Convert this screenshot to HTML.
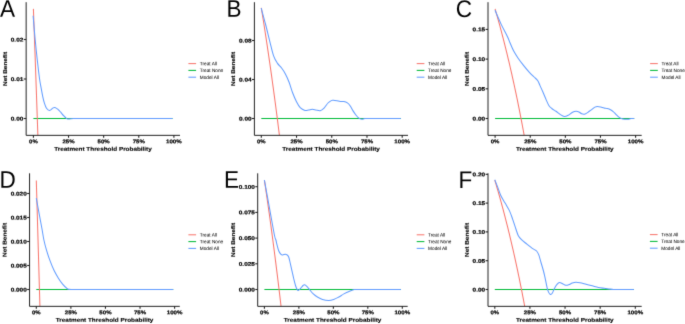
<!DOCTYPE html>
<html><head><meta charset="utf-8"><style>html,body{margin:0;padding:0;background:#fff;}body{width:685px;height:324px;overflow:hidden;}svg{display:block;will-change:transform;}text{font-family:"Liberation Sans",sans-serif;}.t{font-size:5.3px;font-weight:bold;fill:#000;stroke:#000;stroke-width:0.18px;}.ti{font-size:5.45px;font-weight:bold;fill:#000;stroke:#000;stroke-width:0.12px;}.lg{font-size:4.9px;fill:#000;stroke:#000;stroke-width:0.03px;}.L{font-size:24.0px;fill:#000;}</style></head><body>
<svg width="685" height="324" viewBox="0 0 685 324">
<defs><filter id="bl" x="0" y="0" width="685" height="324" filterUnits="userSpaceOnUse" color-interpolation-filters="sRGB"><feConvolveMatrix order="3" kernelMatrix="0.0183 0.1353 0.0183 0.1353 1 0.1353 0.0183 0.1353 0.0183" divisor="1.6146" edgeMode="none" preserveAlpha="false"/></filter></defs>
<g filter="url(#bl)"><rect x="0" y="0" width="685" height="324" fill="#fff"/>
<g><text class="L" transform="translate(0 16.8) scale(0.94 1) matrix(1 0.001 0 1 0 0)">A</text>
<clipPath id="cA"><rect x="26.15" y="2.2" width="153.85" height="133.15"/></clipPath>
<g clip-path="url(#cA)" fill="none" stroke-width="1.05">
<path d="M33.4 118.5H172.5" stroke="#00BA38"/>
<path d="M33.4 8.89 L33.75 18.51 L34.1 28.19 L34.45 37.91 L34.8 47.68 L35.16 57.5 L35.51 67.37 L35.86 77.29 L36.21 87.26 L36.56 97.29 L36.91 107.36 L37.26 117.48 L37.61 127.66 L37.88 135.35" stroke="#F8766D"/>
<path d="M33.1 15.7C33.45 19.75 34.48 32.45 35.2 40C35.92 47.55 36.68 54.58 37.4 61C38.12 67.42 38.87 73.93 39.5 78.5C40.13 83.07 40.65 85.35 41.2 88.4C41.75 91.45 42.27 94.35 42.8 96.8C43.33 99.25 43.78 101.18 44.4 103.1C45.02 105.02 45.63 107.08 46.5 108.3C47.37 109.52 48.55 110.43 49.6 110.4C50.65 110.37 51.92 108.58 52.8 108.1C53.68 107.62 54.03 107.28 54.9 107.5C55.77 107.72 57.03 108.62 58 109.4C58.97 110.18 59.77 111.15 60.7 112.2C61.63 113.25 62.62 114.63 63.6 115.7C64.58 116.77 65.77 118.07 66.6 118.6C67.43 119.13 67.45 118.92 68.6 118.9C69.75 118.88 71.87 118.57 73.5 118.5L172.5 118.5" stroke="#619CFF" stroke-linejoin="round"/>
</g>
<path d="M26.15 2.2V135.35H180" fill="none" stroke="#222222" stroke-width="1.0"/>
<path d="M23.75 118.5H26.15" stroke="#222222" stroke-width="1.1"/>
<text class="t" transform="translate(23.35 118.45) matrix(1 0.001 0 1 0 0)" text-anchor="end" textLength="12.58" lengthAdjust="spacingAndGlyphs" dominant-baseline="central">0.00</text>
<path d="M23.75 79H26.15" stroke="#222222" stroke-width="1.1"/>
<text class="t" transform="translate(23.35 78.95) matrix(1 0.001 0 1 0 0)" text-anchor="end" textLength="12.58" lengthAdjust="spacingAndGlyphs" dominant-baseline="central">0.01</text>
<path d="M23.75 39.5H26.15" stroke="#222222" stroke-width="1.1"/>
<text class="t" transform="translate(23.35 39.45) matrix(1 0.001 0 1 0 0)" text-anchor="end" textLength="12.58" lengthAdjust="spacingAndGlyphs" dominant-baseline="central">0.02</text>
<path d="M33.4 135.35V137.75" stroke="#222222" stroke-width="1.1"/>
<text class="t" transform="translate(33.4 141.15) matrix(1 0.001 0 1 0 0)" text-anchor="middle" textLength="8.66" lengthAdjust="spacingAndGlyphs" dominant-baseline="central">0%</text>
<path d="M68.53 135.35V137.75" stroke="#222222" stroke-width="1.1"/>
<text class="t" transform="translate(68.53 141.15) matrix(1 0.001 0 1 0 0)" text-anchor="middle" textLength="12.21" lengthAdjust="spacingAndGlyphs" dominant-baseline="central">25%</text>
<path d="M103.65 135.35V137.75" stroke="#222222" stroke-width="1.1"/>
<text class="t" transform="translate(103.65 141.15) matrix(1 0.001 0 1 0 0)" text-anchor="middle" textLength="12.21" lengthAdjust="spacingAndGlyphs" dominant-baseline="central">50%</text>
<path d="M138.78 135.35V137.75" stroke="#222222" stroke-width="1.1"/>
<text class="t" transform="translate(138.78 141.15) matrix(1 0.001 0 1 0 0)" text-anchor="middle" textLength="12.21" lengthAdjust="spacingAndGlyphs" dominant-baseline="central">75%</text>
<path d="M173.9 135.35V137.75" stroke="#222222" stroke-width="1.1"/>
<text class="t" transform="translate(173.9 141.15) matrix(1 0.001 0 1 0 0)" text-anchor="middle" textLength="15.76" lengthAdjust="spacingAndGlyphs" dominant-baseline="central">100%</text>
<text class="ti" transform="translate(102.98 148.8) matrix(1 0.001 0 1 0 0)" text-anchor="middle" textLength="97.57" lengthAdjust="spacingAndGlyphs" dominant-baseline="central">Treatment Threshold Probability</text>
<text class="ti" transform="translate(5 69) rotate(-90) matrix(1 0.001 0 1 0 0)" text-anchor="middle" textLength="34.07" lengthAdjust="spacingAndGlyphs" dominant-baseline="central">Net Benefit</text>
<path d="M188.4 63.6H196.1" stroke="#F8766D" stroke-width="1.05"/>
<text class="lg" transform="translate(199.8 63.75) scale(0.96 1) matrix(1 0.001 0 1 0 0)" dominant-baseline="central">Treat All</text>
<path d="M188.4 70.4H196.1" stroke="#00BA38" stroke-width="1.05"/>
<text class="lg" transform="translate(199.8 70.55) scale(0.96 1) matrix(1 0.001 0 1 0 0)" dominant-baseline="central">Treat None</text>
<path d="M188.4 77.2H196.1" stroke="#619CFF" stroke-width="1.05"/>
<text class="lg" transform="translate(199.8 77.35) scale(0.96 1) matrix(1 0.001 0 1 0 0)" dominant-baseline="central">Model All</text></g>
<g><text class="L" transform="translate(226.4 16.8) scale(0.94 1) matrix(1 0.001 0 1 0 0)">B</text>
<clipPath id="cB"><rect x="254.4" y="2.2" width="153.6" height="133.15"/></clipPath>
<g clip-path="url(#cB)" fill="none" stroke-width="1.05">
<path d="M261.3 118.5H400.79" stroke="#00BA38"/>
<path d="M261.3 7.84 L261.65 10 L262 12.18 L262.36 14.37 L262.71 16.57 L263.06 18.78 L263.41 21 L263.77 23.23 L264.12 25.48 L264.47 27.73 L264.82 30 L265.17 32.28 L265.53 34.57 L265.88 36.87 L266.23 39.19 L266.58 41.51 L266.94 43.85 L267.29 46.2 L267.64 48.57 L267.99 50.94 L268.35 53.33 L268.7 55.73 L269.05 58.14 L269.4 60.57 L269.75 63.01 L270.11 65.46 L270.46 67.93 L270.81 70.4 L271.16 72.9 L271.52 75.4 L271.87 77.92 L272.22 80.45 L272.57 83 L272.92 85.56 L273.28 88.13 L273.63 90.72 L273.98 93.32 L274.33 95.94 L274.69 98.57 L275.04 101.21 L275.39 103.88 L275.74 106.55 L276.09 109.24 L276.45 111.95 L276.8 114.67 L277.15 117.4 L277.5 120.15 L277.86 122.92 L278.21 125.7 L278.56 128.5 L278.91 131.31 L279.26 134.14 L279.41 135.35" stroke="#F8766D"/>
<path d="M261.2 8.2C261.93 10.92 264.15 18.9 265.6 24.5C267.05 30.1 268.57 36.57 269.9 41.8C271.23 47.03 272.33 52.3 273.6 55.9C274.87 59.5 276.2 61.42 277.5 63.4C278.8 65.38 280.08 66.05 281.4 67.8C282.72 69.55 284.12 71.5 285.4 73.9C286.68 76.3 287.87 78.97 289.1 82.2C290.33 85.43 291.57 90.05 292.8 93.3C294.03 96.55 295.27 99.32 296.5 101.7C297.73 104.08 298.8 106.15 300.2 107.6C301.6 109.05 303.5 110 304.9 110.4C306.3 110.8 307.37 110.18 308.6 110C309.83 109.82 311.07 109.3 312.3 109.3C313.53 109.3 314.68 109.77 316 110C317.32 110.23 318.82 111.07 320.2 110.7C321.58 110.33 323 109.08 324.3 107.8C325.6 106.52 326.77 104.23 328 103C329.23 101.77 330.78 100.85 331.7 100.4C332.62 99.95 332.63 100.23 333.5 100.3C334.37 100.37 335.75 100.6 336.9 100.8C338.05 101 339.23 101.38 340.4 101.5C341.57 101.62 342.73 101.27 343.9 101.5C345.07 101.73 346.37 102.2 347.4 102.9C348.43 103.6 349.18 104.42 350.1 105.7C351.02 106.98 351.97 109.1 352.9 110.6C353.83 112.1 354.77 113.5 355.7 114.7C356.63 115.9 357.47 117.03 358.5 117.8C359.53 118.57 360.87 119.17 361.9 119.3C362.93 119.43 363.35 118.73 364.7 118.6C366.05 118.47 368.23 118.52 370 118.5L400.79 118.5" stroke="#619CFF" stroke-linejoin="round"/>
</g>
<path d="M254.4 2.2V135.35H408" fill="none" stroke="#222222" stroke-width="1.0"/>
<path d="M252 118.5H254.4" stroke="#222222" stroke-width="1.1"/>
<text class="t" transform="translate(251.6 118.45) matrix(1 0.001 0 1 0 0)" text-anchor="end" textLength="12.58" lengthAdjust="spacingAndGlyphs" dominant-baseline="central">0.00</text>
<path d="M252 79.5H254.4" stroke="#222222" stroke-width="1.1"/>
<text class="t" transform="translate(251.6 79.45) matrix(1 0.001 0 1 0 0)" text-anchor="end" textLength="12.58" lengthAdjust="spacingAndGlyphs" dominant-baseline="central">0.04</text>
<path d="M252 40.5H254.4" stroke="#222222" stroke-width="1.1"/>
<text class="t" transform="translate(251.6 40.45) matrix(1 0.001 0 1 0 0)" text-anchor="end" textLength="12.58" lengthAdjust="spacingAndGlyphs" dominant-baseline="central">0.08</text>
<path d="M261.3 135.35V137.75" stroke="#222222" stroke-width="1.1"/>
<text class="t" transform="translate(261.3 141.15) matrix(1 0.001 0 1 0 0)" text-anchor="middle" textLength="8.66" lengthAdjust="spacingAndGlyphs" dominant-baseline="central">0%</text>
<path d="M296.52 135.35V137.75" stroke="#222222" stroke-width="1.1"/>
<text class="t" transform="translate(296.52 141.15) matrix(1 0.001 0 1 0 0)" text-anchor="middle" textLength="12.21" lengthAdjust="spacingAndGlyphs" dominant-baseline="central">25%</text>
<path d="M331.75 135.35V137.75" stroke="#222222" stroke-width="1.1"/>
<text class="t" transform="translate(331.75 141.15) matrix(1 0.001 0 1 0 0)" text-anchor="middle" textLength="12.21" lengthAdjust="spacingAndGlyphs" dominant-baseline="central">50%</text>
<path d="M366.98 135.35V137.75" stroke="#222222" stroke-width="1.1"/>
<text class="t" transform="translate(366.98 141.15) matrix(1 0.001 0 1 0 0)" text-anchor="middle" textLength="12.21" lengthAdjust="spacingAndGlyphs" dominant-baseline="central">75%</text>
<path d="M402.2 135.35V137.75" stroke="#222222" stroke-width="1.1"/>
<text class="t" transform="translate(402.2 141.15) matrix(1 0.001 0 1 0 0)" text-anchor="middle" textLength="15.76" lengthAdjust="spacingAndGlyphs" dominant-baseline="central">100%</text>
<text class="ti" transform="translate(331.1 148.8) matrix(1 0.001 0 1 0 0)" text-anchor="middle" textLength="97.57" lengthAdjust="spacingAndGlyphs" dominant-baseline="central">Treatment Threshold Probability</text>
<text class="ti" transform="translate(233 69) rotate(-90) matrix(1 0.001 0 1 0 0)" text-anchor="middle" textLength="34.07" lengthAdjust="spacingAndGlyphs" dominant-baseline="central">Net Benefit</text>
<path d="M416.7 63.6H424.4" stroke="#F8766D" stroke-width="1.05"/>
<text class="lg" transform="translate(428.1 63.75) scale(0.96 1) matrix(1 0.001 0 1 0 0)" dominant-baseline="central">Treat All</text>
<path d="M416.7 70.4H424.4" stroke="#00BA38" stroke-width="1.05"/>
<text class="lg" transform="translate(428.1 70.55) scale(0.96 1) matrix(1 0.001 0 1 0 0)" dominant-baseline="central">Treat None</text>
<path d="M416.7 77.2H424.4" stroke="#619CFF" stroke-width="1.05"/>
<text class="lg" transform="translate(428.1 77.35) scale(0.96 1) matrix(1 0.001 0 1 0 0)" dominant-baseline="central">Model All</text></g>
<g><text class="L" transform="translate(455.7 16.9) scale(0.94 1) matrix(1 0.001 0 1 0 0)">C</text>
<clipPath id="cC"><rect x="488" y="2.2" width="153.7" height="133.15"/></clipPath>
<g clip-path="url(#cC)" fill="none" stroke-width="1.05">
<path d="M495.1 118.5H634.2" stroke="#00BA38"/>
<path d="M495.1 8.91 L495.45 10.12 L495.8 11.34 L496.15 12.57 L496.5 13.8 L496.86 15.04 L497.21 16.28 L497.56 17.54 L497.91 18.79 L498.26 20.06 L498.61 21.33 L498.96 22.6 L499.31 23.89 L499.67 25.18 L500.02 26.48 L500.37 27.78 L500.72 29.09 L501.07 30.41 L501.42 31.73 L501.77 33.06 L502.12 34.4 L502.48 35.75 L502.83 37.1 L503.18 38.46 L503.53 39.83 L503.88 41.2 L504.23 42.58 L504.58 43.97 L504.94 45.37 L505.29 46.77 L505.64 48.18 L505.99 49.6 L506.34 51.03 L506.69 52.46 L507.04 53.91 L507.39 55.36 L507.75 56.82 L508.1 58.28 L508.45 59.76 L508.8 61.24 L509.15 62.73 L509.5 64.23 L509.85 65.74 L510.2 67.25 L510.56 68.78 L510.91 70.31 L511.26 71.85 L511.61 73.4 L511.96 74.96 L512.31 76.53 L512.66 78.11 L513.01 79.69 L513.37 81.29 L513.72 82.89 L514.07 84.51 L514.42 86.13 L514.77 87.76 L515.12 89.41 L515.47 91.06 L515.82 92.72 L516.18 94.39 L516.53 96.07 L516.88 97.76 L517.23 99.46 L517.58 101.18 L517.93 102.9 L518.28 104.63 L518.63 106.37 L518.99 108.12 L519.34 109.89 L519.69 111.66 L520.04 113.44 L520.39 115.24 L520.74 117.05 L521.09 118.86 L521.44 120.69 L521.8 122.53 L522.15 124.38 L522.5 126.25 L522.85 128.12 L523.2 130.01 L523.55 131.91 L523.9 133.82 L524.18 135.35" stroke="#F8766D"/>
<path d="M495 10.2C496.02 12.52 499 19.63 501.1 24.1C503.2 28.57 506.12 33.88 507.6 37C509.08 40.12 508.98 40.45 510 42.8C511.02 45.15 512.32 48.48 513.7 51.1C515.08 53.72 516.6 56.03 518.3 58.5C520 60.97 522.05 63.58 523.9 65.9C525.75 68.22 527.7 70.55 529.4 72.4C531.1 74.25 532.7 75.62 534.1 77C535.5 78.38 536.82 79.27 537.8 80.7C538.78 82.13 539.17 83.75 540 85.6C540.83 87.45 541.75 89.38 542.8 91.8C543.85 94.22 545.27 97.78 546.3 100.1C547.33 102.42 548.08 104.3 549 105.7C549.92 107.1 550.63 107.57 551.8 108.5C552.97 109.43 554.62 110.32 556 111.3C557.38 112.28 558.72 113.53 560.1 114.4C561.48 115.27 562.9 116.38 564.3 116.5C565.7 116.62 567.12 115.82 568.5 115.1C569.88 114.38 571.33 112.83 572.6 112.2C573.87 111.57 575.05 111.35 576.1 111.3C577.15 111.25 577.97 111.48 578.9 111.9C579.83 112.32 580.67 113.45 581.7 113.8C582.73 114.15 583.83 114.42 585.1 114C586.37 113.58 588.12 112.1 589.3 111.3C590.48 110.5 591.27 109.9 592.2 109.2C593.13 108.5 594 107.55 594.9 107.1C595.8 106.65 596.62 106.5 597.6 106.5C598.58 106.5 599.73 106.83 600.8 107.1C601.87 107.37 602.92 107.85 604 108.1C605.08 108.35 606.22 108.33 607.3 108.6C608.38 108.87 609.52 109.2 610.5 109.7C611.48 110.2 612.3 110.83 613.2 111.6C614.1 112.37 615 113.43 615.9 114.3C616.8 115.17 617.7 116.12 618.6 116.8C619.5 117.48 620.3 118 621.3 118.4C622.3 118.8 623.52 119.07 624.6 119.2C625.68 119.33 626.73 119.3 627.8 119.2C628.87 119.1 629.93 118.72 631 118.6C632.07 118.48 633.66 118.52 634.2 118.5" stroke="#619CFF" stroke-linejoin="round"/>
</g>
<path d="M488 2.2V135.35H641.7" fill="none" stroke="#222222" stroke-width="1.0"/>
<path d="M485.6 118.5H488" stroke="#222222" stroke-width="1.1"/>
<text class="t" transform="translate(485.2 118.45) matrix(1 0.001 0 1 0 0)" text-anchor="end" textLength="12.58" lengthAdjust="spacingAndGlyphs" dominant-baseline="central">0.00</text>
<path d="M485.6 88.8H488" stroke="#222222" stroke-width="1.1"/>
<text class="t" transform="translate(485.2 88.75) matrix(1 0.001 0 1 0 0)" text-anchor="end" textLength="12.58" lengthAdjust="spacingAndGlyphs" dominant-baseline="central">0.05</text>
<path d="M485.6 59.1H488" stroke="#222222" stroke-width="1.1"/>
<text class="t" transform="translate(485.2 59.05) matrix(1 0.001 0 1 0 0)" text-anchor="end" textLength="12.58" lengthAdjust="spacingAndGlyphs" dominant-baseline="central">0.10</text>
<path d="M485.6 29.4H488" stroke="#222222" stroke-width="1.1"/>
<text class="t" transform="translate(485.2 29.35) matrix(1 0.001 0 1 0 0)" text-anchor="end" textLength="12.58" lengthAdjust="spacingAndGlyphs" dominant-baseline="central">0.15</text>
<path d="M495.1 135.35V137.75" stroke="#222222" stroke-width="1.1"/>
<text class="t" transform="translate(495.1 141.15) matrix(1 0.001 0 1 0 0)" text-anchor="middle" textLength="8.66" lengthAdjust="spacingAndGlyphs" dominant-baseline="central">0%</text>
<path d="M530.23 135.35V137.75" stroke="#222222" stroke-width="1.1"/>
<text class="t" transform="translate(530.23 141.15) matrix(1 0.001 0 1 0 0)" text-anchor="middle" textLength="12.21" lengthAdjust="spacingAndGlyphs" dominant-baseline="central">25%</text>
<path d="M565.35 135.35V137.75" stroke="#222222" stroke-width="1.1"/>
<text class="t" transform="translate(565.35 141.15) matrix(1 0.001 0 1 0 0)" text-anchor="middle" textLength="12.21" lengthAdjust="spacingAndGlyphs" dominant-baseline="central">50%</text>
<path d="M600.48 135.35V137.75" stroke="#222222" stroke-width="1.1"/>
<text class="t" transform="translate(600.48 141.15) matrix(1 0.001 0 1 0 0)" text-anchor="middle" textLength="12.21" lengthAdjust="spacingAndGlyphs" dominant-baseline="central">75%</text>
<path d="M635.6 135.35V137.75" stroke="#222222" stroke-width="1.1"/>
<text class="t" transform="translate(635.6 141.15) matrix(1 0.001 0 1 0 0)" text-anchor="middle" textLength="15.76" lengthAdjust="spacingAndGlyphs" dominant-baseline="central">100%</text>
<text class="ti" transform="translate(564.75 148.8) matrix(1 0.001 0 1 0 0)" text-anchor="middle" textLength="97.57" lengthAdjust="spacingAndGlyphs" dominant-baseline="central">Treatment Threshold Probability</text>
<text class="ti" transform="translate(466.7 69) rotate(-90) matrix(1 0.001 0 1 0 0)" text-anchor="middle" textLength="34.07" lengthAdjust="spacingAndGlyphs" dominant-baseline="central">Net Benefit</text>
<path d="M650.1 63.6H657.8" stroke="#F8766D" stroke-width="1.05"/>
<text class="lg" transform="translate(661.5 63.75) scale(0.96 1) matrix(1 0.001 0 1 0 0)" dominant-baseline="central">Treat All</text>
<path d="M650.1 70.4H657.8" stroke="#00BA38" stroke-width="1.05"/>
<text class="lg" transform="translate(661.5 70.55) scale(0.96 1) matrix(1 0.001 0 1 0 0)" dominant-baseline="central">Treat None</text>
<path d="M650.1 77.2H657.8" stroke="#619CFF" stroke-width="1.05"/>
<text class="lg" transform="translate(661.5 77.35) scale(0.96 1) matrix(1 0.001 0 1 0 0)" dominant-baseline="central">Model All</text></g>
<g><text class="L" transform="translate(-0.5 187.8) scale(0.94 1) matrix(1 0.001 0 1 0 0)">D</text>
<clipPath id="cD"><rect x="29.55" y="173.3" width="150.25" height="133.05"/></clipPath>
<g clip-path="url(#cD)" fill="none" stroke-width="1.05">
<path d="M36.3 289.5H173.22" stroke="#00BA38"/>
<path d="M36.3 180.54 L36.65 192.3 L36.99 204.11 L37.34 215.99 L37.68 227.92 L38.03 239.92 L38.37 251.98 L38.72 264.1 L39.07 276.28 L39.41 288.52 L39.76 300.82 L39.91 306.35" stroke="#F8766D"/>
<path d="M36.3 198.1C36.82 200.93 38.45 209.95 39.4 215.1C40.35 220.25 41.25 224.85 42 229C42.75 233.15 43.15 236.47 43.9 240C44.65 243.53 45.5 246.8 46.5 250.2C47.5 253.6 48.63 257 49.9 260.4C51.17 263.8 52.68 267.63 54.1 270.6C55.52 273.57 56.98 275.95 58.4 278.2C59.82 280.45 61.18 282.4 62.6 284.1C64.02 285.8 65.9 287.53 66.9 288.4C67.9 289.27 67.75 289.12 68.6 289.3C69.45 289.48 70.87 289.47 72 289.5L173.22 289.5" stroke="#619CFF" stroke-linejoin="round"/>
</g>
<path d="M29.55 173.3V306.35H179.8" fill="none" stroke="#222222" stroke-width="1.0"/>
<path d="M27.15 289.5H29.55" stroke="#222222" stroke-width="1.1"/>
<text class="t" transform="translate(26.75 289.45) matrix(1 0.001 0 1 0 0)" text-anchor="end" textLength="16.13" lengthAdjust="spacingAndGlyphs" dominant-baseline="central">0.000</text>
<path d="M27.15 265.5H29.55" stroke="#222222" stroke-width="1.1"/>
<text class="t" transform="translate(26.75 265.45) matrix(1 0.001 0 1 0 0)" text-anchor="end" textLength="16.13" lengthAdjust="spacingAndGlyphs" dominant-baseline="central">0.005</text>
<path d="M27.15 241.5H29.55" stroke="#222222" stroke-width="1.1"/>
<text class="t" transform="translate(26.75 241.45) matrix(1 0.001 0 1 0 0)" text-anchor="end" textLength="16.13" lengthAdjust="spacingAndGlyphs" dominant-baseline="central">0.010</text>
<path d="M27.15 217.5H29.55" stroke="#222222" stroke-width="1.1"/>
<text class="t" transform="translate(26.75 217.45) matrix(1 0.001 0 1 0 0)" text-anchor="end" textLength="16.13" lengthAdjust="spacingAndGlyphs" dominant-baseline="central">0.015</text>
<path d="M27.15 193.5H29.55" stroke="#222222" stroke-width="1.1"/>
<text class="t" transform="translate(26.75 193.45) matrix(1 0.001 0 1 0 0)" text-anchor="end" textLength="16.13" lengthAdjust="spacingAndGlyphs" dominant-baseline="central">0.020</text>
<path d="M36.3 306.35V308.75" stroke="#222222" stroke-width="1.1"/>
<text class="t" transform="translate(36.3 312.15) matrix(1 0.001 0 1 0 0)" text-anchor="middle" textLength="8.66" lengthAdjust="spacingAndGlyphs" dominant-baseline="central">0%</text>
<path d="M70.88 306.35V308.75" stroke="#222222" stroke-width="1.1"/>
<text class="t" transform="translate(70.88 312.15) matrix(1 0.001 0 1 0 0)" text-anchor="middle" textLength="12.21" lengthAdjust="spacingAndGlyphs" dominant-baseline="central">25%</text>
<path d="M105.45 306.35V308.75" stroke="#222222" stroke-width="1.1"/>
<text class="t" transform="translate(105.45 312.15) matrix(1 0.001 0 1 0 0)" text-anchor="middle" textLength="12.21" lengthAdjust="spacingAndGlyphs" dominant-baseline="central">50%</text>
<path d="M140.03 306.35V308.75" stroke="#222222" stroke-width="1.1"/>
<text class="t" transform="translate(140.03 312.15) matrix(1 0.001 0 1 0 0)" text-anchor="middle" textLength="12.21" lengthAdjust="spacingAndGlyphs" dominant-baseline="central">75%</text>
<path d="M174.6 306.35V308.75" stroke="#222222" stroke-width="1.1"/>
<text class="t" transform="translate(174.6 312.15) matrix(1 0.001 0 1 0 0)" text-anchor="middle" textLength="15.76" lengthAdjust="spacingAndGlyphs" dominant-baseline="central">100%</text>
<text class="ti" transform="translate(104.58 319.7) matrix(1 0.001 0 1 0 0)" text-anchor="middle" textLength="97.57" lengthAdjust="spacingAndGlyphs" dominant-baseline="central">Treatment Threshold Probability</text>
<text class="ti" transform="translate(4.6 240) rotate(-90) matrix(1 0.001 0 1 0 0)" text-anchor="middle" textLength="34.07" lengthAdjust="spacingAndGlyphs" dominant-baseline="central">Net Benefit</text>
<path d="M188.4 234.8H196.1" stroke="#F8766D" stroke-width="1.05"/>
<text class="lg" transform="translate(199.8 234.95) scale(0.96 1) matrix(1 0.001 0 1 0 0)" dominant-baseline="central">Treat All</text>
<path d="M188.4 241.6H196.1" stroke="#00BA38" stroke-width="1.05"/>
<text class="lg" transform="translate(199.8 241.75) scale(0.96 1) matrix(1 0.001 0 1 0 0)" dominant-baseline="central">Treat None</text>
<path d="M188.4 248.4H196.1" stroke="#619CFF" stroke-width="1.05"/>
<text class="lg" transform="translate(199.8 248.55) scale(0.96 1) matrix(1 0.001 0 1 0 0)" dominant-baseline="central">Model All</text></g>
<g><text class="L" transform="translate(224 187.8) scale(0.94 1) matrix(1 0.001 0 1 0 0)">E</text>
<clipPath id="cE"><rect x="257.7" y="173.3" width="150" height="133.05"/></clipPath>
<g clip-path="url(#cE)" fill="none" stroke-width="1.05">
<path d="M264.4 289.5H400.92" stroke="#00BA38"/>
<path d="M264.4 180.22 L264.74 182.53 L265.09 184.84 L265.43 187.17 L265.78 189.5 L266.12 191.85 L266.47 194.21 L266.81 196.59 L267.16 198.97 L267.5 201.37 L267.85 203.78 L268.19 206.2 L268.54 208.64 L268.88 211.09 L269.23 213.55 L269.57 216.02 L269.92 218.5 L270.26 221 L270.61 223.51 L270.95 226.04 L271.29 228.58 L271.64 231.13 L271.98 233.69 L272.33 236.27 L272.67 238.87 L273.02 241.47 L273.36 244.09 L273.71 246.73 L274.05 249.37 L274.4 252.04 L274.74 254.71 L275.09 257.41 L275.43 260.11 L275.78 262.83 L276.12 265.57 L276.47 268.32 L276.81 271.09 L277.16 273.87 L277.5 276.66 L277.85 279.48 L278.19 282.3 L278.53 285.15 L278.88 288.01 L279.22 290.88 L279.57 293.77 L279.91 296.68 L280.26 299.61 L280.6 302.55 L280.95 305.5 L281.05 306.35" stroke="#F8766D"/>
<path d="M264.4 180.2C265.23 184.77 267.73 198.47 269.4 207.6C271.07 216.73 273.32 229.6 274.4 235C275.48 240.4 275.45 238.32 275.9 240C276.35 241.68 276.62 243.27 277.1 245.1C277.58 246.93 278.15 249.45 278.8 251C279.45 252.55 280.35 253.75 281 254.4C281.65 255.05 281.98 254.92 282.7 254.9C283.42 254.88 284.58 254.32 285.3 254.3C286.02 254.28 286.43 254.35 287 254.8C287.57 255.25 288.13 255.5 288.7 257C289.27 258.5 289.83 261.4 290.4 263.8C290.97 266.2 291.53 268.87 292.1 271.4C292.67 273.93 293.23 276.65 293.8 279C294.37 281.35 294.93 283.73 295.5 285.5C296.07 287.27 296.7 288.8 297.2 289.6C297.7 290.4 297.93 290.5 298.5 290.3C299.07 290.1 299.83 289.2 300.6 288.4C301.37 287.6 302.42 286.12 303.1 285.5C303.78 284.88 304 284.48 304.7 284.7C305.4 284.92 306.47 285.95 307.3 286.8C308.13 287.65 308.7 288.62 309.7 289.8C310.7 290.98 312.02 292.7 313.3 293.9C314.58 295.1 315.87 296.07 317.4 297C318.93 297.93 320.63 298.92 322.5 299.5C324.37 300.08 326.73 300.5 328.6 300.5C330.47 300.5 332 300.08 333.7 299.5C335.4 298.92 337.1 297.93 338.8 297C340.5 296.07 342.2 294.83 343.9 293.9C345.6 292.97 347.28 292.12 349 291.4C350.72 290.68 352.7 289.92 354.2 289.6C355.7 289.28 356.73 289.52 358 289.5L400.92 289.5" stroke="#619CFF" stroke-linejoin="round"/>
</g>
<path d="M257.7 173.3V306.35H407.7" fill="none" stroke="#222222" stroke-width="1.0"/>
<path d="M255.3 289.5H257.7" stroke="#222222" stroke-width="1.1"/>
<text class="t" transform="translate(254.9 289.45) matrix(1 0.001 0 1 0 0)" text-anchor="end" textLength="16.13" lengthAdjust="spacingAndGlyphs" dominant-baseline="central">0.000</text>
<path d="M255.3 263.8H257.7" stroke="#222222" stroke-width="1.1"/>
<text class="t" transform="translate(254.9 263.75) matrix(1 0.001 0 1 0 0)" text-anchor="end" textLength="16.13" lengthAdjust="spacingAndGlyphs" dominant-baseline="central">0.025</text>
<path d="M255.3 238.1H257.7" stroke="#222222" stroke-width="1.1"/>
<text class="t" transform="translate(254.9 238.05) matrix(1 0.001 0 1 0 0)" text-anchor="end" textLength="16.13" lengthAdjust="spacingAndGlyphs" dominant-baseline="central">0.050</text>
<path d="M255.3 212.4H257.7" stroke="#222222" stroke-width="1.1"/>
<text class="t" transform="translate(254.9 212.35) matrix(1 0.001 0 1 0 0)" text-anchor="end" textLength="16.13" lengthAdjust="spacingAndGlyphs" dominant-baseline="central">0.075</text>
<path d="M255.3 186.7H257.7" stroke="#222222" stroke-width="1.1"/>
<text class="t" transform="translate(254.9 186.65) matrix(1 0.001 0 1 0 0)" text-anchor="end" textLength="16.13" lengthAdjust="spacingAndGlyphs" dominant-baseline="central">0.100</text>
<path d="M264.4 306.35V308.75" stroke="#222222" stroke-width="1.1"/>
<text class="t" transform="translate(264.4 312.15) matrix(1 0.001 0 1 0 0)" text-anchor="middle" textLength="8.66" lengthAdjust="spacingAndGlyphs" dominant-baseline="central">0%</text>
<path d="M298.88 306.35V308.75" stroke="#222222" stroke-width="1.1"/>
<text class="t" transform="translate(298.88 312.15) matrix(1 0.001 0 1 0 0)" text-anchor="middle" textLength="12.21" lengthAdjust="spacingAndGlyphs" dominant-baseline="central">25%</text>
<path d="M333.35 306.35V308.75" stroke="#222222" stroke-width="1.1"/>
<text class="t" transform="translate(333.35 312.15) matrix(1 0.001 0 1 0 0)" text-anchor="middle" textLength="12.21" lengthAdjust="spacingAndGlyphs" dominant-baseline="central">50%</text>
<path d="M367.82 306.35V308.75" stroke="#222222" stroke-width="1.1"/>
<text class="t" transform="translate(367.82 312.15) matrix(1 0.001 0 1 0 0)" text-anchor="middle" textLength="12.21" lengthAdjust="spacingAndGlyphs" dominant-baseline="central">75%</text>
<path d="M402.3 306.35V308.75" stroke="#222222" stroke-width="1.1"/>
<text class="t" transform="translate(402.3 312.15) matrix(1 0.001 0 1 0 0)" text-anchor="middle" textLength="15.76" lengthAdjust="spacingAndGlyphs" dominant-baseline="central">100%</text>
<text class="ti" transform="translate(332.6 319.7) matrix(1 0.001 0 1 0 0)" text-anchor="middle" textLength="97.57" lengthAdjust="spacingAndGlyphs" dominant-baseline="central">Treatment Threshold Probability</text>
<text class="ti" transform="translate(233 240) rotate(-90) matrix(1 0.001 0 1 0 0)" text-anchor="middle" textLength="34.07" lengthAdjust="spacingAndGlyphs" dominant-baseline="central">Net Benefit</text>
<path d="M416.7 234.8H424.4" stroke="#F8766D" stroke-width="1.05"/>
<text class="lg" transform="translate(428.1 234.95) scale(0.96 1) matrix(1 0.001 0 1 0 0)" dominant-baseline="central">Treat All</text>
<path d="M416.7 241.6H424.4" stroke="#00BA38" stroke-width="1.05"/>
<text class="lg" transform="translate(428.1 241.75) scale(0.96 1) matrix(1 0.001 0 1 0 0)" dominant-baseline="central">Treat None</text>
<path d="M416.7 248.4H424.4" stroke="#619CFF" stroke-width="1.05"/>
<text class="lg" transform="translate(428.1 248.55) scale(0.96 1) matrix(1 0.001 0 1 0 0)" dominant-baseline="central">Model All</text></g>
<g><text class="L" transform="translate(458.6 187.9) scale(0.94 1) matrix(1 0.001 0 1 0 0)">F</text>
<clipPath id="cF"><rect x="488" y="173.3" width="153.7" height="133.05"/></clipPath>
<g clip-path="url(#cF)" fill="none" stroke-width="1.05">
<path d="M494.8 289.5H633.89" stroke="#00BA38"/>
<path d="M494.8 180.18 L495.15 181.34 L495.5 182.52 L495.85 183.7 L496.2 184.89 L496.56 186.08 L496.91 187.28 L497.26 188.49 L497.61 189.7 L497.96 190.92 L498.31 192.14 L498.66 193.37 L499.01 194.61 L499.37 195.85 L499.72 197.1 L500.07 198.36 L500.42 199.62 L500.77 200.89 L501.12 202.17 L501.47 203.45 L501.82 204.74 L502.18 206.03 L502.53 207.34 L502.88 208.65 L503.23 209.96 L503.58 211.29 L503.93 212.62 L504.28 213.96 L504.63 215.3 L504.99 216.65 L505.34 218.01 L505.69 219.38 L506.04 220.76 L506.39 222.14 L506.74 223.53 L507.09 224.92 L507.44 226.33 L507.8 227.74 L508.15 229.16 L508.5 230.59 L508.85 232.03 L509.2 233.47 L509.55 234.92 L509.9 236.39 L510.25 237.85 L510.61 239.33 L510.96 240.82 L511.31 242.31 L511.66 243.81 L512.01 245.32 L512.36 246.84 L512.71 248.37 L513.07 249.91 L513.42 251.45 L513.77 253.01 L514.12 254.57 L514.47 256.15 L514.82 257.73 L515.17 259.32 L515.52 260.92 L515.88 262.53 L516.23 264.15 L516.58 265.78 L516.93 267.42 L517.28 269.07 L517.63 270.72 L517.98 272.39 L518.33 274.07 L518.68 275.76 L519.04 277.46 L519.39 279.17 L519.74 280.89 L520.09 282.62 L520.44 284.36 L520.79 286.11 L521.14 287.87 L521.5 289.64 L521.85 291.43 L522.2 293.22 L522.55 295.03 L522.9 296.84 L523.25 298.67 L523.6 300.51 L523.95 302.36 L524.3 304.23 L524.66 306.1 L524.7 306.35" stroke="#F8766D"/>
<path d="M494.8 179.8C495.27 180.98 496.6 184.28 497.6 186.9C498.6 189.52 499.55 192.8 500.8 195.5C502.05 198.2 503.67 200.58 505.1 203.1C506.53 205.62 508.13 207.9 509.4 210.6C510.67 213.3 511.62 216.23 512.7 219.3C513.78 222.37 514.98 226.32 515.9 229C516.82 231.68 517.27 233.62 518.2 235.4C519.13 237.18 520.05 238.25 521.5 239.7C522.95 241.15 525.1 242.65 526.9 244.1C528.7 245.55 530.68 247.25 532.3 248.4C533.92 249.55 535.52 249.92 536.6 251C537.68 252.08 538.07 252.98 538.8 254.9C539.53 256.82 540.27 259.98 541 262.5C541.73 265.02 542.58 267.73 543.2 270C543.82 272.27 544.2 273.88 544.7 276.1C545.2 278.32 545.68 280.92 546.2 283.3C546.72 285.68 547.12 288.53 547.8 290.4C548.48 292.27 549.53 294.07 550.3 294.5C551.07 294.93 551.72 294.02 552.4 293C553.08 291.98 553.63 289.85 554.4 288.4C555.17 286.95 556.15 285.28 557 284.3C557.85 283.32 558.57 282.58 559.5 282.5C560.43 282.42 561.57 283.33 562.6 283.8C563.63 284.27 564.68 285.13 565.7 285.3C566.72 285.47 567.6 285.17 568.7 284.8C569.8 284.43 571.1 283.52 572.3 283.1C573.5 282.68 574.62 282.35 575.9 282.3C577.18 282.25 578.3 282.47 580 282.8C581.7 283.13 584.07 283.8 586.1 284.3C588.13 284.8 590.15 285.28 592.2 285.8C594.25 286.32 596.38 286.98 598.4 287.4C600.42 287.82 602.55 288.05 604.3 288.3C606.05 288.55 607.37 288.7 608.9 288.9C610.43 289.1 611.97 289.4 613.5 289.5L633.89 289.5" stroke="#619CFF" stroke-linejoin="round"/>
</g>
<path d="M488 173.3V306.35H641.7" fill="none" stroke="#222222" stroke-width="1.0"/>
<path d="M485.6 289.5H488" stroke="#222222" stroke-width="1.1"/>
<text class="t" transform="translate(485.2 289.45) matrix(1 0.001 0 1 0 0)" text-anchor="end" textLength="12.58" lengthAdjust="spacingAndGlyphs" dominant-baseline="central">0.00</text>
<path d="M485.6 260.7H488" stroke="#222222" stroke-width="1.1"/>
<text class="t" transform="translate(485.2 260.65) matrix(1 0.001 0 1 0 0)" text-anchor="end" textLength="12.58" lengthAdjust="spacingAndGlyphs" dominant-baseline="central">0.05</text>
<path d="M485.6 231.9H488" stroke="#222222" stroke-width="1.1"/>
<text class="t" transform="translate(485.2 231.85) matrix(1 0.001 0 1 0 0)" text-anchor="end" textLength="12.58" lengthAdjust="spacingAndGlyphs" dominant-baseline="central">0.10</text>
<path d="M485.6 203.1H488" stroke="#222222" stroke-width="1.1"/>
<text class="t" transform="translate(485.2 203.05) matrix(1 0.001 0 1 0 0)" text-anchor="end" textLength="12.58" lengthAdjust="spacingAndGlyphs" dominant-baseline="central">0.15</text>
<path d="M485.6 174.3H488" stroke="#222222" stroke-width="1.1"/>
<text class="t" transform="translate(485.2 174.25) matrix(1 0.001 0 1 0 0)" text-anchor="end" textLength="12.58" lengthAdjust="spacingAndGlyphs" dominant-baseline="central">0.20</text>
<path d="M494.8 306.35V308.75" stroke="#222222" stroke-width="1.1"/>
<text class="t" transform="translate(494.8 312.15) matrix(1 0.001 0 1 0 0)" text-anchor="middle" textLength="8.66" lengthAdjust="spacingAndGlyphs" dominant-baseline="central">0%</text>
<path d="M529.92 306.35V308.75" stroke="#222222" stroke-width="1.1"/>
<text class="t" transform="translate(529.92 312.15) matrix(1 0.001 0 1 0 0)" text-anchor="middle" textLength="12.21" lengthAdjust="spacingAndGlyphs" dominant-baseline="central">25%</text>
<path d="M565.05 306.35V308.75" stroke="#222222" stroke-width="1.1"/>
<text class="t" transform="translate(565.05 312.15) matrix(1 0.001 0 1 0 0)" text-anchor="middle" textLength="12.21" lengthAdjust="spacingAndGlyphs" dominant-baseline="central">50%</text>
<path d="M600.17 306.35V308.75" stroke="#222222" stroke-width="1.1"/>
<text class="t" transform="translate(600.17 312.15) matrix(1 0.001 0 1 0 0)" text-anchor="middle" textLength="12.21" lengthAdjust="spacingAndGlyphs" dominant-baseline="central">75%</text>
<path d="M635.3 306.35V308.75" stroke="#222222" stroke-width="1.1"/>
<text class="t" transform="translate(635.3 312.15) matrix(1 0.001 0 1 0 0)" text-anchor="middle" textLength="15.76" lengthAdjust="spacingAndGlyphs" dominant-baseline="central">100%</text>
<text class="ti" transform="translate(564.75 319.7) matrix(1 0.001 0 1 0 0)" text-anchor="middle" textLength="97.57" lengthAdjust="spacingAndGlyphs" dominant-baseline="central">Treatment Threshold Probability</text>
<text class="ti" transform="translate(466.7 240) rotate(-90) matrix(1 0.001 0 1 0 0)" text-anchor="middle" textLength="34.07" lengthAdjust="spacingAndGlyphs" dominant-baseline="central">Net Benefit</text>
<path d="M649.9 234.6H657.6" stroke="#F8766D" stroke-width="1.05"/>
<text class="lg" transform="translate(661.3 234.75) scale(0.96 1) matrix(1 0.001 0 1 0 0)" dominant-baseline="central">Treat All</text>
<path d="M649.9 241.4H657.6" stroke="#00BA38" stroke-width="1.05"/>
<text class="lg" transform="translate(661.3 241.55) scale(0.96 1) matrix(1 0.001 0 1 0 0)" dominant-baseline="central">Treat None</text>
<path d="M649.9 248.2H657.6" stroke="#619CFF" stroke-width="1.05"/>
<text class="lg" transform="translate(661.3 248.35) scale(0.96 1) matrix(1 0.001 0 1 0 0)" dominant-baseline="central">Model All</text></g>
</g></svg>
</body></html>
